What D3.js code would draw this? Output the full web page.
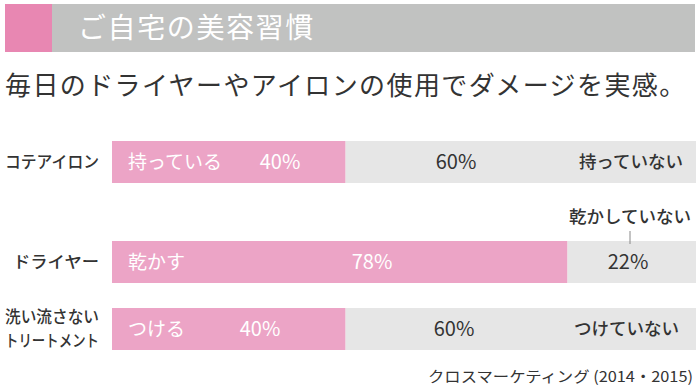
<!DOCTYPE html>
<html>
<head>
<meta charset="utf-8">
<script src="https://cdn.jsdelivr.net/npm/d3@7/dist/d3.min.js"></script>
<style>
  html, body { margin: 0; padding: 0; background: #fff; }
  svg { display: block; font-family: "Noto Sans CJK JP", "Noto Sans", sans-serif; }
</style>
</head>
<body>
<svg id="chart" width="700" height="389"></svg>
<script>
// ---- data ----
const headerTitle = "ご自宅の美容習慣";
const subtitle = "毎日のドライヤーやアイロンの使用でダメージを実感。";
const categories = ["コテアイロン", "ドライヤー", "洗い流さないトリートメント"];
const categoryLines = [["コテアイロン"], ["ドライヤー"], ["洗い流さない", "トリートメント"]];
const yesLabels = ["持っている", "乾かす", "つける"];
const noLabels = ["持っていない", "乾かしていない", "つけていない"];
const yesValues = [40, 78, 40];
const noValues = [60, 22, 60];
const sourceText = "クロスマーケティング (2014・2015)";

// ---- layout ----
const colors = { pink: "#eca4c6", pinkHead: "#e887b2", grey: "#e6e6e6", greyHead: "#c1c2c1", text: "#333333" };
const barH = 42;
const rowTop = [141, 241, 308];
// per-row label placement (layout)
const yesValueX = [280, 372, 260];
const noValueX = [456, 628, 454];
const noLabelEnd = [683, null, 679];
const catWidths = [[94], [86], [94, 94]];

const svg = d3.select("#chart");

const x = d3.scaleLinear().domain([0, 100]).range([112, 696]);
const y = d3.scaleOrdinal().domain(categories).range(rowTop);

// header
svg.append("rect").attr("x", 5).attr("y", 4).attr("width", 690).attr("height", 48).attr("fill", colors.greyHead);
svg.append("rect").attr("x", 5).attr("y", 4).attr("width", 47).attr("height", 48).attr("fill", colors.pinkHead);
svg.append("text").attr("x", 78).attr("y", 28).attr("dy", "0.36em")
  .attr("fill", "#fff").attr("font-size", 28).attr("letter-spacing", 1.6)
  .text(headerTitle);

// subtitle
svg.append("text").attr("x", 5).attr("y", 86).attr("dy", "0.36em")
  .attr("fill", colors.text).attr("font-size", 26).attr("letter-spacing", 1.4)
  .text(subtitle);

const rows = categories.map((c, i) => ({
  cat: c, lines: categoryLines[i], yes: yesValues[i], no: noValues[i],
  yesLabel: yesLabels[i], noLabel: noLabels[i], i
}));

const g = svg.append("g");

// bars
g.selectAll("rect.yes").data(rows).join("rect").attr("class", "yes")
  .attr("x", x(0)).attr("y", d => y(d.cat))
  .attr("width", d => x(d.yes) - x(0)).attr("height", barH)
  .attr("fill", colors.pink);
g.selectAll("rect.no").data(rows).join("rect").attr("class", "no")
  .attr("x", d => x(d.yes)).attr("y", d => y(d.cat))
  .attr("width", d => x(d.yes + d.no) - x(d.yes)).attr("height", barH)
  .attr("fill", colors.grey);

rows.forEach(d => {
  const cy = y(d.cat) + barH / 2;
  const n = d.lines.length;
  // category labels
  d.lines.forEach((ln, k) => {
    g.append("text").attr("x", 99).attr("y", cy + (k - (n - 1) / 2) * 24).attr("dy", "0.36em")
      .attr("text-anchor", "end").attr("fill", colors.text)
      .attr("font-size", 16.5).attr("font-weight", 500)
      .attr("textLength", catWidths[d.i][k]).attr("lengthAdjust", "spacingAndGlyphs")
      .text(ln);
  });
  // yes label inside pink
  g.append("text").attr("x", x(0) + 16).attr("y", cy).attr("dy", "0.36em")
    .attr("fill", "#fff").attr("font-size", 19).text(d.yesLabel);
  g.append("text").attr("x", yesValueX[d.i]).attr("y", cy).attr("dy", "0.36em")
    .attr("text-anchor", "middle").attr("fill", "#fff").attr("font-size", 20)
    .text(d.yes + "%");
  // no value
  g.append("text").attr("x", noValueX[d.i]).attr("y", cy).attr("dy", "0.36em")
    .attr("text-anchor", "middle").attr("fill", colors.text).attr("font-size", 20)
    .text(d.no + "%");
  // no label
  if (noLabelEnd[d.i] !== null) {
    g.append("text").attr("x", noLabelEnd[d.i]).attr("y", cy).attr("dy", "0.36em")
      .attr("text-anchor", "end").attr("fill", colors.text).attr("font-size", 17.5).attr("font-weight", 500)
      .text(d.noLabel);
  } else {
    const top = y(d.cat);
    g.append("line").attr("x1", noValueX[d.i] + 2).attr("x2", noValueX[d.i] + 2)
      .attr("y1", top - 10).attr("y2", top + 3).attr("stroke", "#888").attr("stroke-width", 1);
    g.append("text").attr("x", noValueX[d.i] + 2).attr("y", top - 24).attr("dy", "0.36em")
      .attr("text-anchor", "middle").attr("fill", colors.text).attr("font-size", 17.5).attr("font-weight", 500)
      .text(d.noLabel);
  }
});

// source
svg.append("text").attr("x", 693).attr("y", 377).attr("dy", "0.36em")
  .attr("text-anchor", "end").attr("fill", colors.text).attr("font-size", 15)
  .attr("textLength", 265).attr("lengthAdjust", "spacingAndGlyphs")
  .text(sourceText);
</script>
</body>
</html>
